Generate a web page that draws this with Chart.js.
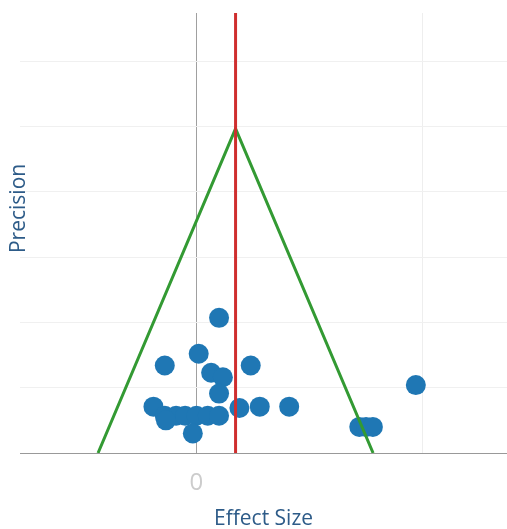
<!DOCTYPE html>
<html>
<head>
<meta charset="utf-8">
<script src="https://cdn.jsdelivr.net/npm/chart.js@4"></script>
<style>
  html, body { margin: 0; padding: 0; background: #fff; overflow: hidden; }
  #wrap { width: 507px; height: 529px; }
</style>
</head>
<body>
<div id="wrap"><canvas id="funnel"></canvas></div>
<script>
// study effect sizes and precisions
const effectSizes = [0.10, 0.01, -0.14, 0.24, 0.065, 0.117, 0.10, 0.97, -0.19, 0.19, 0.28, 0.41,
  -0.14, -0.09, -0.05, 0.0, 0.05, 0.10, -0.135, -0.016, 0.72, 0.75, 0.78];
const precisions = [2.07, 1.52, 1.34, 1.34, 1.23, 1.16, 0.91, 1.04, 0.71, 0.69, 0.71, 0.71,
  0.57, 0.57, 0.57, 0.57, 0.57, 0.57, 0.50, 0.30, 0.40, 0.40, 0.40];

// pooled effect line and funnel outline
const pooledX = [0.173, 0.173];
const pooledY = [0, 6.74];
const funnelX = [-0.435, 0.173, 0.781];
const funnelY = [0, 4.97, 0];

const xTicks = [0, 1];
const yTicks = [1, 2, 3, 4, 5, 6];

const toPoints = (xs, ys) => xs.map((x, i) => ({x: x, y: ys[i]}));

const ctx = document.getElementById('funnel').getContext('2d');
new Chart(ctx, {
  type: 'scatter',
  data: {
    datasets: [
      {
        label: 'Pooled',
        data: toPoints(pooledX, pooledY),
        showLine: true,
        borderColor: '#cf2e2e',
        borderWidth: 3,
        pointRadius: 0,
        order: 0
      },
      {
        label: 'Funnel',
        data: toPoints(funnelX, funnelY),
        showLine: true,
        borderColor: '#339a33',
        borderWidth: 3,
        pointRadius: 0,
        order: 1
      },
      {
        label: 'Studies',
        data: toPoints(effectSizes, precisions),
        backgroundColor: '#1f77b4',
        borderWidth: 0,
        pointRadius: 10,
        pointHoverRadius: 10,
        order: 2
      }
    ]
  },
  options: {
    responsive: true,
    maintainAspectRatio: false,
    animation: false,
    layout: { autoPadding: false, padding: { top: 13, right: 0, bottom: 0, left: 0 } },
    plugins: { legend: { display: false }, tooltip: { enabled: false } },
    scales: {
      x: {
        type: 'linear',
        min: -0.78,
        max: 1.373,
        afterBuildTicks: (scale) => { scale.ticks = xTicks.map(v => ({value: v})); },
        grid: {
          drawTicks: false,
          color: (c) => c.tick && c.tick.value === 0 ? '#a0a0a0' : '#eeeeee',
          lineWidth: 1
        },
        border: { display: true, color: '#999999', width: 1 },
        ticks: {
          padding: 16,
          maxRotation: 0,
          color: '#cccccc',
          font: { family: 'Open Sans', size: 24 },
          callback: (v) => v === 0 ? '0' : ''
        },
        title: {
          display: true,
          text: 'Effect Size',
          color: '#2d5b88',
          font: { family: 'Open Sans', size: 21 },
          padding: { top: -7, bottom: -3 }
        }
      },
      y: {
        type: 'linear',
        min: 0,
        max: 6.74,
        afterBuildTicks: (scale) => { scale.ticks = yTicks.map(v => ({value: v})); },
        grid: { drawTicks: false, color: '#f0f0f0', lineWidth: 1 },
        border: { display: false },
        ticks: { display: false },
        title: {
          display: true,
          text: '         Precision',
          color: '#2d5b88',
          font: { family: 'Open Sans', size: 21, lineHeight: 1 },
          padding: { top: 9, bottom: -10 }
        }
      }
    }
  }
});
</script>
</body>
</html>
